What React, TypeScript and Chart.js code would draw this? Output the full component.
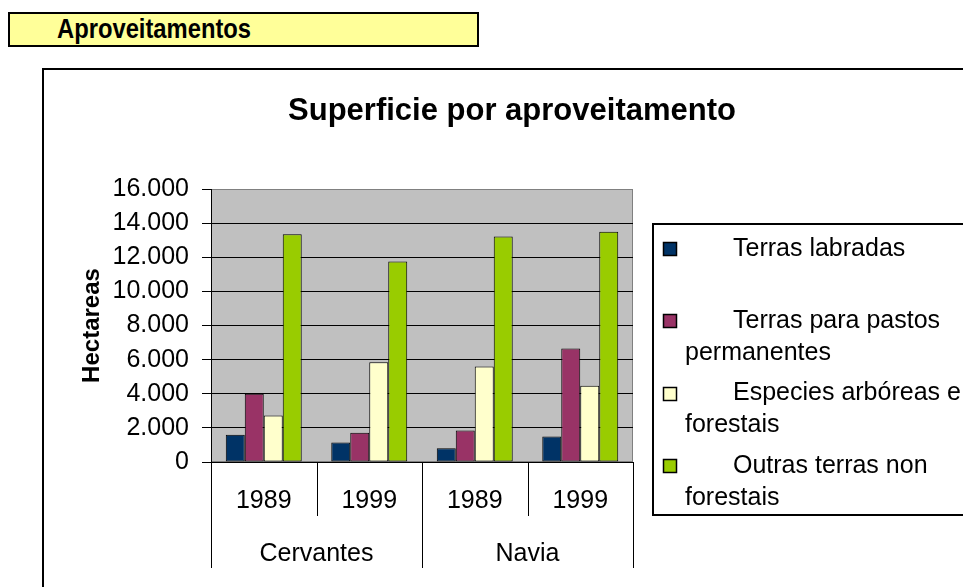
import React, { useEffect, useRef } from 'react';
import { Chart, registerables } from 'chart.js';

Chart.register(...registerables);

const headerText = 'Aproveitamentos';
const chartTitle = 'Superficie por aproveitamento';
const yAxisTitle = 'Hectareas';
const years = ['1989', '1999', '1989', '1999'];
const municipalities = ['Cervantes', 'Navia'];
const seriesNames = [
  'Terras labradas',
  'Terras para pastos permanentes',
  'Especies arbóreas e forestais',
  'Outras terras non forestais',
];
const terrasLabradas = [1590, 1140, 800, 1490];
const pastosPermanentes = [4000, 1720, 1840, 6650];
const especiesArboreas = [2720, 5840, 5600, 4470];
const outrasTerras = [13350, 11750, 13220, 13490];
const seriesColors = ['#003366', '#993366', '#FFFFCC', '#99CC00'];
const yMax = 16000;
const yStep = 2000;

const FONT = '"Liberation Sans", Arial, Helvetica, sans-serif';

const fmt = (v: number) => String(v).replace(/\B(?=(\d{3})+(?!\d))/g, '.');

const decor = {
  id: 'decor',
  beforeDraw(chart: any) {
    const { ctx, chartArea: a } = chart;
    ctx.save();
    ctx.fillStyle = '#C0C0C0';
    ctx.fillRect(a.left, a.top, a.right - a.left, a.bottom - a.top);
    ctx.strokeStyle = '#808080';
    ctx.lineWidth = 1;
    ctx.strokeRect(a.left + 0.5, a.top + 0.5, a.right - a.left - 1, a.bottom - a.top - 1);
    ctx.restore();
  },
  afterDraw(chart: any) {
    const { ctx, chartArea: a } = chart;
    const x = chart.scales.x;
    ctx.save();
    ctx.fillStyle = '#000';
    ctx.textAlign = 'center';
    ctx.textBaseline = 'middle';
    ctx.font = `bold 31px ${FONT}`;
    ctx.fillText(chartTitle, 512, 111);

    // two-level category axis
    const step = x.getPixelForValue(1) - x.getPixelForValue(0);
    const start = x.getPixelForValue(0) - step / 2;
    ctx.strokeStyle = '#000';
    ctx.lineWidth = 1;
    for (let i = 0; i <= years.length; i++) {
      const bx = Math.round(start + i * step) + 0.5;
      const len = i % 2 === 0 ? 106 : 54;
      ctx.beginPath();
      ctx.moveTo(bx, a.bottom);
      ctx.lineTo(bx, a.bottom + len);
      ctx.stroke();
    }
    ctx.font = `25px ${FONT}`;
    years.forEach((yr, i) => ctx.fillText(yr, x.getPixelForValue(i), a.bottom + 39));
    municipalities.forEach((m, g) =>
      ctx.fillText(m, (x.getPixelForValue(2 * g) + x.getPixelForValue(2 * g + 1)) / 2, a.bottom + 92)
    );

    // legend
    const lx = 653, ly = 224, lw = 420, lh = 291;
    ctx.lineWidth = 2;
    ctx.strokeStyle = '#000';
    ctx.strokeRect(lx, ly, lw, lh);
    ctx.textAlign = 'left';
    ctx.font = `25px ${FONT}`;
    chart.data.datasets.forEach((ds: any, i: number) => {
      const cy = 249 + i * 72.3;
      ctx.fillStyle = ds.backgroundColor;
      ctx.fillRect(664, Math.round(cy) - 6, 12, 12);
      ctx.lineWidth = 1.5;
      ctx.strokeRect(663.5, Math.round(cy) - 6.5, 13, 13);
      const words = String(ds.label).split(' ');
      const lines: string[] = [];
      let cur = '';
      let startX = 733;
      const limit = 1000;
      words.forEach((w) => {
        const t = cur ? cur + ' ' + w : w;
        if (cur && startX + ctx.measureText(t).width > limit) {
          lines.push(cur);
          cur = w;
          startX = 685;
        } else cur = t;
      });
      if (cur) lines.push(cur);
      ctx.fillStyle = '#000';
      lines.forEach((ln, k) => ctx.fillText(ln, k === 0 ? 733 : 685, cy + k * 32));
    });
    ctx.restore();
  },
};

export default function App() {
  const ref = useRef<HTMLCanvasElement | null>(null);
  useEffect(() => {
    if (!ref.current) return;
    const series = [terrasLabradas, pastosPermanentes, especiesArboreas, outrasTerras];
    const chart = new Chart(ref.current, {
      type: 'bar',
      data: {
        labels: years,
        datasets: series.map((d, i) => ({
          label: seriesNames[i],
          data: d,
          backgroundColor: seriesColors[i],
          borderColor: '#000',
          borderWidth: 1,
          borderSkipped: false,
          categoryPercentage: 0.72,
          barPercentage: 1,
        })),
      },
      options: {
        responsive: false,
        animation: false,
        devicePixelRatio: 1,
        layout: { padding: { left: 0, top: 189, right: 330, bottom: 125 } },
        plugins: { legend: { display: false }, tooltip: { enabled: false }, title: { display: false } },
        scales: {
          x: {
            afterFit(s: any) { s.height = 0; },
            ticks: { display: false },
            grid: { display: false, drawTicks: false },
            border: { display: true, color: '#000', width: 1 },
          },
          y: {
            min: 0,
            max: yMax,
            afterFit(s: any) { s.width = 211; },
            ticks: {
              stepSize: yStep,
              color: '#000',
              padding: 13,
              font: { family: FONT, size: 25 },
              callback: (v: any) => fmt(Number(v)),
            },
            grid: {
              color: (c: any) => (c.tick && c.tick.value === yMax ? '#808080' : '#000'),
              tickColor: '#000',
              tickLength: 9,
              lineWidth: 1,
            },
            border: { display: true, color: '#000', width: 1 },
            title: {
              display: true,
              text: yAxisTitle,
              color: '#000',
              font: { family: FONT, size: 24, weight: 'bold' },
              padding: { top: 78, bottom: 0 },
            },
          },
        },
      },
      plugins: [decor],
    } as any);
    return () => chart.destroy();
  }, []);

  return (
    <div style={{ position: 'absolute', left: 0, top: 0, width: 963, height: 587, overflow: 'hidden', background: '#fff' }}>
      <div
        style={{
          position: 'absolute', left: 8, top: 12, width: 471, height: 35, boxSizing: 'border-box',
          background: '#FFFF99', border: '2px solid #000', paddingLeft: 47,
          font: `bold 27px ${FONT}`, lineHeight: '31px', color: '#000', whiteSpace: 'nowrap',
        }}
      >
        <span style={{ display: 'inline-block', transform: 'scaleX(0.88)', transformOrigin: 'left center' }}>
          {headerText}
        </span>
      </div>
      <div
        style={{
          position: 'absolute', left: 42, top: 68, width: 1000, height: 600, boxSizing: 'border-box',
          border: '2px solid #000',
        }}
      />
      <canvas ref={ref} width={963} height={587} style={{ position: 'absolute', left: 0, top: 0 }} />
    </div>
  );
}
